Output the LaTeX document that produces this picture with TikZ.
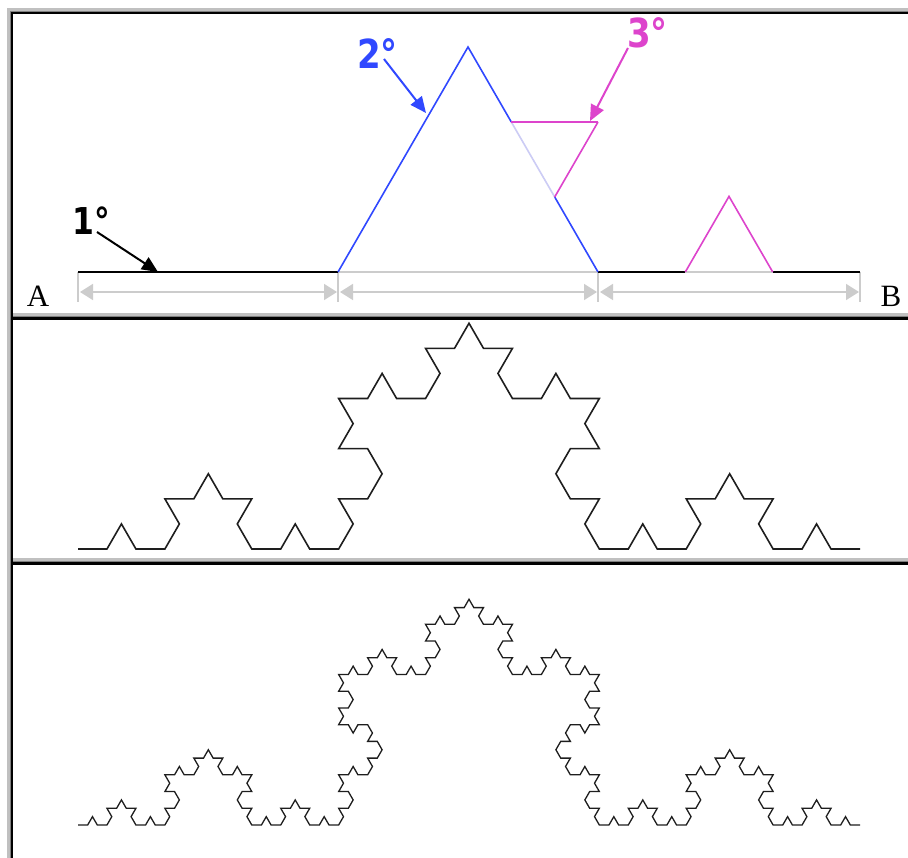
\documentclass[tikz,border=0pt]{standalone}
\usepackage{fontspec}
\setmainfont{Liberation Serif}
\newfontfamily\labelfont{DejaVu Sans}[FakeStretch=0.85]
\usetikzlibrary{arrows.meta,lindenmayersystems}
\definecolor{kblue}{RGB}{48,72,255}
\definecolor{klav}{RGB}{204,204,245}
\definecolor{kmag}{RGB}{221,68,204}
\definecolor{kgray}{RGB}{204,204,204}
\definecolor{frlight}{RGB}{192,192,192}
\definecolor{frdark}{RGB}{128,128,128}
\definecolor{kcurve}{RGB}{30,30,30}
\pgfdeclarelindenmayersystem{Koch}{\rule{F -> F+F--F+F}}
\begin{document}
\begin{tikzpicture}[x=1pt,y=-1pt,
  dimtick/.style={draw=kgray,line width=1.6pt},
  dimarrow/.style={draw=kgray,line width=1.6pt,shorten <=2pt,shorten >=1pt,
    {Triangle[length=13pt,width=16pt]}-{Triangle[length=13pt,width=16pt]}},
  baseblack/.style={draw=black,line width=2.7pt},
  basegray/.style={draw=kgray,line width=2.7pt},
  blueline/.style={draw=kblue,line width=1.6pt},
  magline/.style={draw=kmag,line width=1.6pt},
  lbl/.style={inner sep=0pt,anchor=base west,font=\labelfont\bfseries\fontsize{40}{40}\selectfont},
  lblarrow/.style={line width=2pt,-{Triangle[length=16pt,width=14pt]}},
  curve3/.style={draw=kcurve,line width=1.6pt,line join=miter},
  curve4/.style={draw=kcurve,line width=1.3pt,line join=miter},
  letter/.style={inner sep=0pt,font=\fontsize{31}{31}\selectfont}
]
\useasboundingbox (0,0) rectangle (908,858);
\fill[white] (0,0) rectangle (908,858);
% ---------- frame ----------
\fill[frlight] (7,8) rectangle (908,11);
\fill[frlight] (7,8) rectangle (10,858);
% panel 1
\fill[frdark] (10,11) rectangle (908,12);
\fill[black] (11,12) rectangle (908,14);
\fill[frdark] (10,11) rectangle (11,858);
\fill[black] (11,12) rectangle (13,858);
\fill[frlight] (13,313.5) rectangle (908,316.5);
% panel 2
\fill[frdark] (13,316.5) rectangle (908,317.5);
\fill[black] (13,317.5) rectangle (908,320.5);
\fill[frlight] (13,558) rectangle (908,561);
% panel 3
\fill[frdark] (13,561) rectangle (908,562);
\fill[black] (13,562) rectangle (908,565);

% ---------- panel 1 ----------
\coordinate (A0) at (78,272);
\coordinate (P1) at (338,272);
\coordinate (P2) at (598,272);
\coordinate (B0) at (860,272);
\coordinate (apex) at (468,47);
\coordinate (r1) at (511.3,122);
\coordinate (r2) at (554.7,197);
\coordinate (rpk) at (598,122);
\coordinate (s1) at (685.3,272);
\coordinate (s2) at (772.7,272);
\coordinate (spk) at (729,196.4);
% dimension ticks and arrows
\foreach \n/\x in {t0/78,t1/338,t2/598,t3/860}{
  \coordinate (\n a) at (\x,272);
  \coordinate (\n b) at (\x,302);
  \coordinate (\n m) at (\x,292);
  \draw[dimtick] (\n a) -- (\n b);
}
\draw[dimarrow] (t0m) -- (t1m);
\draw[dimarrow] (t1m) -- (t2m);
\draw[dimarrow] (t2m) -- (t3m);
% base
\draw[basegray] (P1) -- (P2);
\draw[basegray] (s1) -- (s2);
\draw[baseblack] (A0) -- (P1);
\draw[baseblack] (P2) -- (s1);
\draw[baseblack] (s2) -- (B0);
% second generation
\draw[blueline,line join=miter] (P1) -- (apex) -- (r1);
\draw[blueline] (r2) -- (P2);
\draw[draw=klav,line width=1.6pt] (r1) -- (r2);
% third generation
\draw[draw=kmag,line width=2.6pt] (r1) -- (rpk);
\draw[magline] (rpk) -- (r2);
\draw[magline,line join=miter] (s1) -- (spk) -- (s2);
% labels
\node[lbl,text=black,font=\labelfont\bfseries\fontsize{37}{37}\selectfont] (l1) at (72,235) {1°};
\node[lbl,text=kblue] (l2) at (357,69) {2°};
\node[lbl,text=kmag] (l3) at (627,48) {3°};
\coordinate (l1s) at (97,232);
\coordinate (l1t) at (158,272);
\coordinate (l2s) at (384,59);
\coordinate (l2t) at (426,113);
\coordinate (l3s) at (628,48);
\coordinate (l3t) at (590,121);
\draw[lblarrow,black] (l1s) -- (l1t);
\draw[lblarrow,kblue] (l2s) -- (l2t);
\draw[lblarrow,kmag] (l3s) -- (l3t);
\node[letter] (A) at (38,296.5) {A};
\node[letter] (B) at (891,296.5) {B};

% ---------- panel 2: order 3 ----------
\begin{scope}[shift={(78,549)}]
\draw[curve3, l-system={Koch, axiom=F, order=3, step=28.963pt, angle=60}] lindenmayer system;
\end{scope}
% ---------- panel 3: order 4 ----------
\begin{scope}[shift={(78,825)}]
\draw[curve4, l-system={Koch, axiom=F, order=4, step=9.6543pt, angle=60}] lindenmayer system;
\end{scope}
\end{tikzpicture}
\end{document}
